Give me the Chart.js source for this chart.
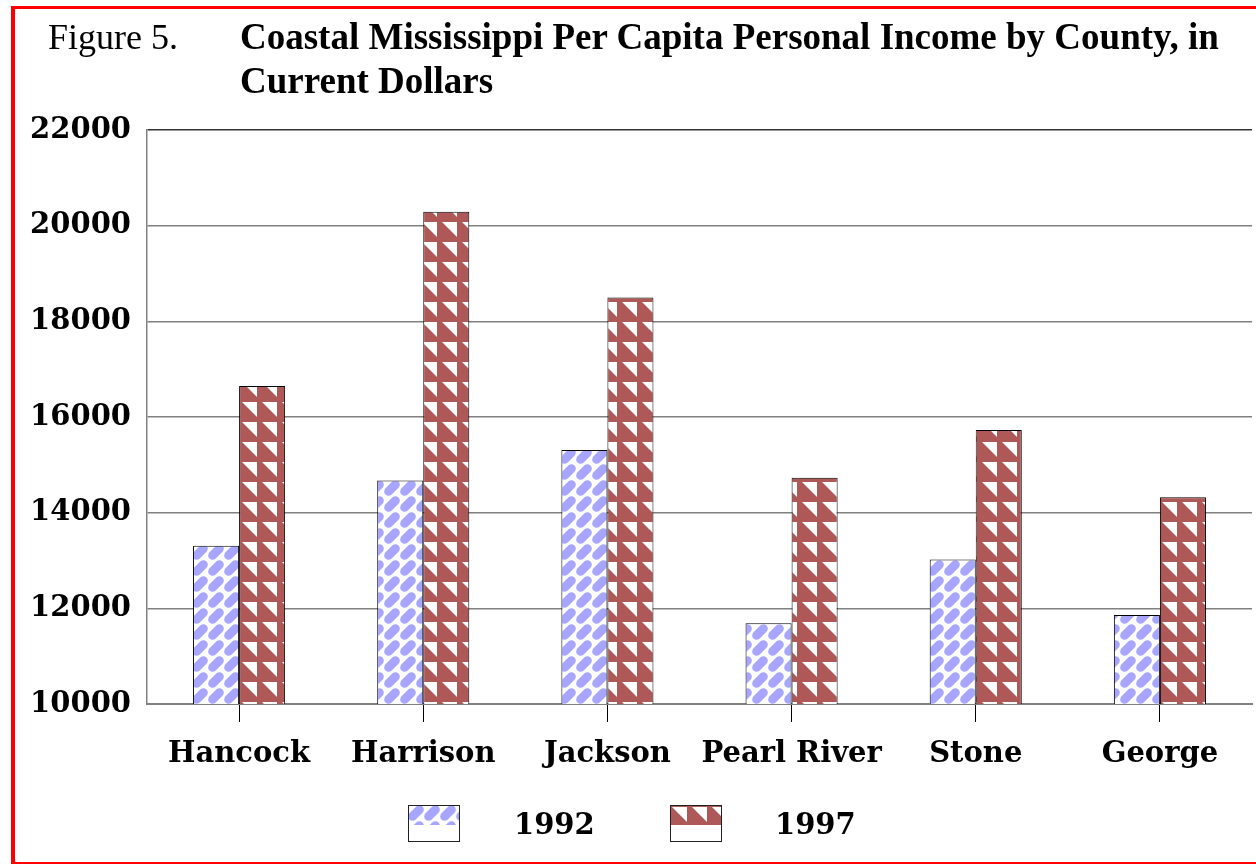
<!DOCTYPE html>
<html>
<head>
<meta charset="utf-8">
<script src="https://cdn.jsdelivr.net/npm/chart.js@4.4.0/dist/chart.umd.min.js"></script>
<style>
  body { margin: 0; overflow: hidden; background: #fff; }
  #wrap { position: relative; width: 1256px; height: 865px; overflow: hidden; }
  #frame { position: absolute; left: 11px; top: 6px; width: 1300px; height: 858px;
           box-sizing: border-box; border-left: 4px solid #f00; border-top: 3px solid #f00;
           border-bottom: 2px solid #f00; }
  #chartBox { position: absolute; left: 0; top: 0; width: 1256px; height: 865px; }
  .title { position: absolute; top: 15px; font-family: "Liberation Serif", serif;
           font-size: 36px; line-height: 44px; color: #000; }
  #fig { left: 48px; }
  #head { left: 240px; font-weight: bold; font-size: 37px; width: 1010px; }
  .swatch { position: absolute; top: 805px; }
  .legtext { position: absolute; top: 810px; font-family: "DejaVu Serif", serif;
             font-weight: bold; font-size: 29px; line-height: 29px; }
</style>
</head>
<body>
<div id="wrap">
  <div id="chartBox"><canvas id="chart"></canvas></div>
  <div id="frame"></div>
  <div class="title" id="fig">Figure 5.</div>
  <div class="title" id="head">Coastal Mississippi Per Capita Personal Income by County, in<br>Current Dollars</div>
  <canvas class="swatch" id="sw1992" width="52" height="37" style="left:408px"></canvas>
  <div class="legtext" style="left:514px">1992</div>
  <canvas class="swatch" id="sw1997" width="52" height="37" style="left:670px"></canvas>
  <div class="legtext" style="left:775px">1997</div>
</div>
<script>
const counties = ['Hancock', 'Harrison', 'Jackson', 'Pearl River', 'Stone', 'George'];
const income1992 = [13310, 14670, 15310, 11690, 13020, 11860];
const income1997 = [16650, 20290, 18500, 14730, 15730, 14320];
const yearLabels = ['1992', '1997'];

// light blue diagonal "brick" fill
function brickTile() {
    const c = document.createElement('canvas');
    c.width = 16; c.height = 16;
    const g = c.getContext('2d');
    g.fillStyle = '#fff';
    g.fillRect(0, 0, 16, 16);
    g.strokeStyle = '#a6a6ff';
    g.lineWidth = 8.8;
    g.lineCap = 'round';
    for (const dx of [-16, 0, 16]) {
        for (const dy of [-16, 0, 16]) {
            g.beginPath();
            g.moveTo(4.6 + dx, 11.4 + dy);
            g.lineTo(11.4 + dx, 4.6 + dy);
            g.stroke();
        }
    }
    return c;
}

// dark red fill with white triangles
function triangleTile() {
    const c = document.createElement('canvas');
    c.width = 20; c.height = 20;
    const g = c.getContext('2d');
    g.fillStyle = '#ae5858';
    g.fillRect(0, 0, 20, 20);
    g.fillStyle = '#fff';
    g.beginPath();
    g.moveTo(2, 2);
    g.lineTo(17, 2);
    g.lineTo(17, 17);
    g.closePath();
    g.fill();
    return c;
}

const ctx = document.getElementById('chart').getContext('2d');
const fill1992 = ctx.createPattern(brickTile(), 'repeat');
const fill1997 = ctx.createPattern(triangleTile(), 'repeat');

// legend swatches: pattern on the upper part, white below
function drawSwatch(id, tile) {
    const g = document.getElementById(id).getContext('2d');
    g.fillStyle = '#fff';
    g.fillRect(0, 0, 52, 37);
    g.fillStyle = g.createPattern(tile, 'repeat');
    g.fillRect(0, 0, 52, 20);
    g.strokeStyle = '#222';
    g.lineWidth = 1;
    g.strokeRect(0.5, 0.5, 51, 36);
}
drawSwatch('sw1992', brickTile());
drawSwatch('sw1997', triangleTile());

const tickFont = { family: 'DejaVu Serif', weight: 'bold', size: 29 };

const data = {
    labels: counties,
    datasets: [{
        label: yearLabels[0],
        data: income1992,
        backgroundColor: fill1992,
        borderColor: '#000',
        borderWidth: 1
    }, {
        label: yearLabels[1],
        data: income1997,
        backgroundColor: fill1997,
        borderColor: '#000',
        borderWidth: 1
    }]
};

const config = {
    type: 'bar',
    data: data,
    options: {
        responsive: true,
        maintainAspectRatio: false,
        animation: false,
        datasets: { bar: { barPercentage: 1.0, categoryPercentage: 0.5 } },
        layout: { padding: { left: 0, top: 130, right: 4, bottom: 81 } },
        plugins: {
            legend: { display: false },
            title: { display: false },
            tooltip: { enabled: false }
        },
        scales: {
            x: {
                grid: {
                    offset: false,
                    drawOnChartArea: false,
                    drawTicks: true,
                    tickLength: 18,
                    color: '#000',
                    lineWidth: 1
                },
                border: { color: '#808080', width: 2 },
                ticks: { font: tickFont, color: '#000', padding: 15, maxRotation: 0 },
                afterFit: (scale) => { scale.height = 80; }
            },
            y: {
                min: 10000,
                max: 22000,
                grid: {
                    drawTicks: false,
                    color: (c) => c.tick && c.tick.value === 22000 ? '#333' : '#808080',
                    lineWidth: 1.5
                },
                border: { color: '#808080', width: 1.5 },
                ticks: {
                    stepSize: 2000,
                    font: tickFont,
                    color: '#000',
                    padding: 16,
                    callback: (v) => String(v)
                },
                afterFit: (scale) => { scale.width = 147; }
            }
        }
    }
};

const chart = new Chart(ctx, config);
</script>
</body>
</html>
